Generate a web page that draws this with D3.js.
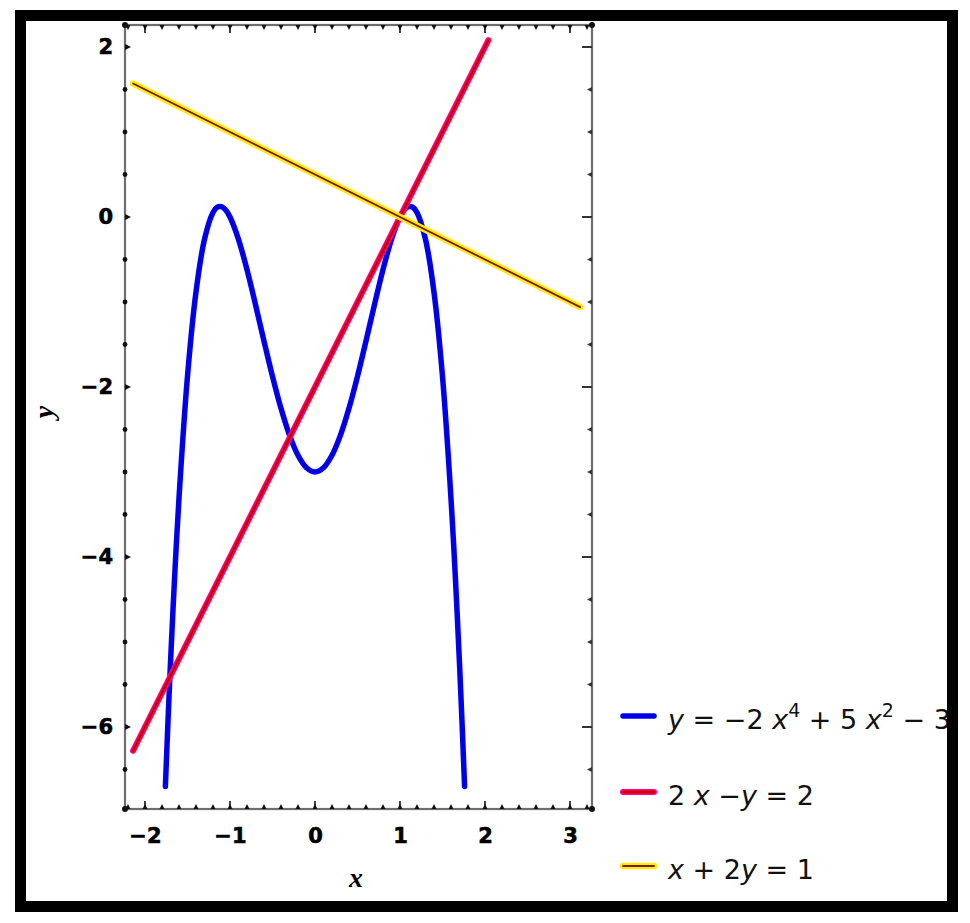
<!DOCTYPE html>
<html>
<head>
<meta charset="utf-8">
<script src="https://cdn.jsdelivr.net/npm/d3@7"></script>
<style>
  html, body { margin: 0; padding: 0; background: #fff; }
  svg { display: block; }
</style>
</head>
<body>
<svg id="chart" width="970" height="923"></svg>
<script>
// ---- data ----
const quartX = [-1.76, -1.73, -1.7, -1.65, -1.6, -1.5, -1.4, -1.3, -1.2, -1.15, -1.1, -1.05, -1.0, -0.9, -0.8, -0.7, -0.6, -0.5, -0.4, -0.3, -0.2, -0.1, 0,
                0.1, 0.2, 0.3, 0.4, 0.5, 0.6, 0.7, 0.8, 0.9, 1.0, 1.05, 1.1, 1.15, 1.2, 1.3, 1.4, 1.5, 1.6, 1.65, 1.7, 1.73, 1.76];
const quartY = [-6.70, -5.95, -5.25, -4.21, -3.31, -1.875, -0.883, -0.262, 0.053, 0.115, 0.122, 0.082, 0, -0.262, -0.619, -1.030, -1.459, -1.875, -2.251, -2.566, -2.803, -2.950, -3.0,
                -2.950, -2.803, -2.566, -2.251, -1.875, -1.459, -1.030, -0.619, -0.262, 0, 0.082, 0.122, 0.115, 0.053, -0.262, -0.883, -1.875, -3.31, -4.21, -5.25, -5.95, -6.70];
const redX = [-2.14, 2.04];
const redY = [-6.28, 2.08];
const yellowX = [-2.14, 3.12];
const yellowY = [1.57, -1.06];

const seriesNames = ["quartic", "line1", "line2"];
const xTicks = [-2, -1, 0, 1, 2, 3];
const yTicks = [2, 0, -2, -4, -6];

// ---- layout ----
const svg = d3.select("#chart");
const L = 125, R = 592, T = 25, B = 809;
const x = d3.scaleLinear().domain([-2.235, 3.259]).range([L, R]);
const y = d3.scaleLinear().domain([-6.965, 2.259]).range([B, T]);

svg.append("defs").append("clipPath").attr("id", "clip")
  .append("rect").attr("x", L).attr("y", T).attr("width", R - L).attr("height", B - T);

// frame
svg.append("rect").attr("x", L).attr("y", T).attr("width", R - L).attr("height", B - T)
  .attr("fill", "none").attr("stroke", "#6e6e6e").attr("stroke-width", 2.2);

// ---- ticks ----
const tickCol = "#111";
const xMinor = d3.range(-2.2, 3.26, 0.2).map(v => Math.round(v * 10) / 10);
const yMinor = d3.range(-6.5, 2.26, 0.5);

const tickG = svg.append("g");
xMinor.forEach(v => {
  const px = x(v);
  const major = Math.abs(v - Math.round(v)) < 1e-6;
  tickG.append("path").attr("d", `M${px - 2.5},${B} L${px},${B - 5} L${px + 2.5},${B} Z`).attr("fill", tickCol);
  if (major) tickG.append("line").attr("x1", px).attr("x2", px).attr("y1", B).attr("y2", B - 8)
      .attr("stroke", tickCol).attr("stroke-width", 1.6);
  tickG.append("path").attr("d", `M${px - 2.5},${T} L${px},${T + 5} L${px + 2.5},${T} Z`).attr("fill", tickCol);
  if (major) tickG.append("line").attr("x1", px).attr("x2", px).attr("y1", T).attr("y2", T + 8)
      .attr("stroke", tickCol).attr("stroke-width", 1.6);
});
yMinor.forEach(v => {
  const py = y(v);
  const major = Math.abs(v / 2 - Math.round(v / 2)) < 1e-6;
  if (major) {
    tickG.append("path").attr("d", `M${L},${py - 3} L${L + 6},${py} L${L},${py + 3} Z`).attr("fill", tickCol);
    tickG.append("line").attr("x1", R).attr("x2", R - 10).attr("y1", py).attr("y2", py)
      .attr("stroke", "#333").attr("stroke-width", 2);
  } else {
    tickG.append("circle").attr("cx", L).attr("cy", py).attr("r", 2.4).attr("fill", tickCol);
    tickG.append("path").attr("d", `M${R},${py - 2.5} L${R - 5},${py} L${R},${py + 2.5} Z`).attr("fill", "#333");
  }
});
[[L, T], [R, T], [L, B], [R, B]].forEach(([cx, cy]) =>
  tickG.append("circle").attr("cx", cx).attr("cy", cy).attr("r", 3).attr("fill", tickCol));

// ---- axes labels through d3 axes ----
const xAxis = svg.append("g").attr("transform", `translate(0,${B})`)
  .call(d3.axisBottom(x).tickValues(xTicks).tickSize(0).tickPadding(19).tickFormat(d3.format("d")));
const yAxis = svg.append("g").attr("transform", `translate(${L},0)`)
  .call(d3.axisLeft(y).tickValues(yTicks).tickSize(0).tickPadding(12).tickFormat(d3.format("d")));
[xAxis, yAxis].forEach(a => {
  a.select(".domain").remove();
  a.selectAll("text").attr("font-family", "'DejaVu Sans', sans-serif")
    .attr("font-weight", "bold").attr("font-size", 21).attr("fill", "#000")
    .attr("stroke", "#000").attr("stroke-width", 0.6);
});

svg.append("text").attr("x", 356).attr("y", 887).attr("text-anchor", "middle")
  .attr("font-family", "'Liberation Serif', serif").attr("font-style", "italic").attr("font-weight", "bold")
  .attr("font-size", 28).text("x");
svg.append("text").attr("transform", "translate(53,412) rotate(-90)").attr("text-anchor", "middle")
  .attr("font-family", "'Liberation Serif', serif").attr("font-style", "italic").attr("font-weight", "bold")
  .attr("font-size", 28).text("y");

// ---- curves ----
const styles = {
  quartic: [{c: "#0000ff", w: 5.5, o: 1}, {c: "#000033", w: 1.1, o: 0.4}],
  line1: [{c: "#ff00c8", w: 6, o: 1}, {c: "#ff0020", w: 4.4, o: 1}, {c: "#000", w: 1.1, o: 0.55}],
  line2: [{c: "#ffee00", w: 6.5, o: 1}, {c: "#b02000", w: 1.8, o: 1}, {c: "#000", w: 0.9, o: 0.55}]
};
const seriesData = {
  quartic: quartX.map((v, i) => [v, quartY[i]]),
  line1: redX.map((v, i) => [v, redY[i]]),
  line2: yellowX.map((v, i) => [v, yellowY[i]])
};
const lineGen = d3.line().x(d => x(d[0])).y(d => y(d[1])).curve(d3.curveCatmullRom.alpha(0.5));
const plotG = svg.append("g").attr("clip-path", "url(#clip)");
seriesNames.forEach(name => {
  styles[name].forEach(s => {
    plotG.append("path").datum(seriesData[name]).attr("d", lineGen)
      .attr("fill", "none").attr("stroke", s.c).attr("stroke-width", s.w)
      .attr("stroke-opacity", s.o).attr("stroke-linecap", "round").attr("stroke-linejoin", "round");
  });
});

// ---- legend ----
const legendY = [716, 792, 866];
const legendFont = "'DejaVu Sans', sans-serif";
const legendG = svg.append("g");
seriesNames.forEach((name, i) => {
  styles[name].forEach(s => {
    legendG.append("line").attr("x1", 623).attr("x2", 654).attr("y1", legendY[i]).attr("y2", legendY[i])
      .attr("stroke", s.c).attr("stroke-width", s.w).attr("stroke-opacity", s.o).attr("stroke-linecap", "round");
  });
});
function legendText(i, parts) {
  const t = legendG.append("text").attr("x", 668).attr("y", legendY[i] + 13)
    .attr("font-family", legendFont).attr("font-size", 27).attr("fill", "#111");
  parts.forEach(p => {
    const ts = t.append("tspan").text(p.t);
    if (p.i) ts.attr("font-style", "italic");
    if (p.sup) ts.attr("font-size", 19).attr("dy", -12);
    if (p.down) ts.attr("dy", 12);
  });
}
legendText(0, [{t: "y", i: 1}, {t: " = −2 "}, {t: "x", i: 1}, {t: "4", sup: 1}, {t: " + 5 ", down: 1}, {t: "x", i: 1}, {t: "2", sup: 1}, {t: " − 3", down: 1}]);
legendText(1, [{t: "2 "}, {t: "x", i: 1}, {t: " −"}, {t: "y", i: 1}, {t: " = 2"}]);
legendText(2, [{t: "x", i: 1}, {t: " + 2"}, {t: "y", i: 1}, {t: " = 1"}]);

// ---- outer black border (on top) ----
svg.append("rect").attr("x", 20.5).attr("y", 15.5).attr("width", 932).attr("height", 891)
  .attr("fill", "none").attr("stroke", "#000").attr("stroke-width", 11);
</script>
</body>
</html>
